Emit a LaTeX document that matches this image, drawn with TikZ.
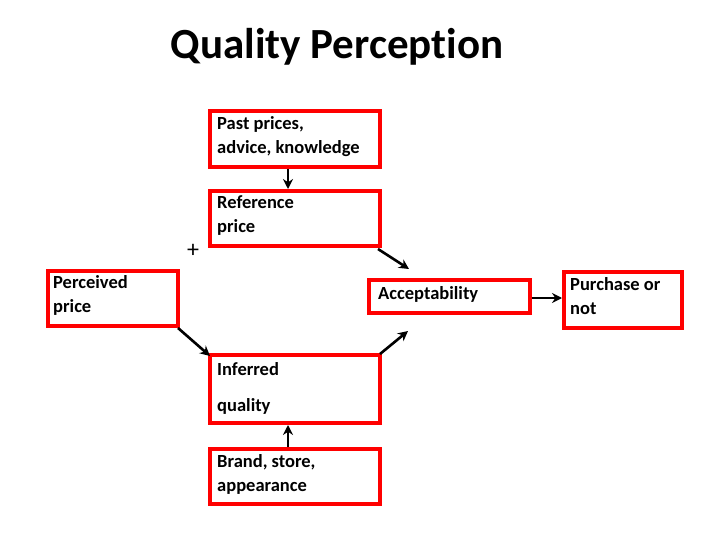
\documentclass[tikz,border=0pt]{standalone}
\usepackage{fontspec}
\setmainfont[Ligatures=NoCommon]{Carlito}
\usetikzlibrary{arrows.meta}
\begin{document}
\begin{tikzpicture}[x=1pt,y=-1pt,
  rbox/.style={draw=red,line width=4pt,fill=white},
  lbl/.style={anchor=north west,align=left,font=\bfseries\fontsize{18.5}{24}\selectfont,inner sep=0pt},
  arr/.style={-{Stealth[length=10pt,width=10pt]},line width=2.6pt}]
\useasboundingbox (0,0) rectangle (720,540);
\node[font=\bfseries\fontsize{43}{48}\selectfont] (t) at (337,47) {Quality Perception};
\draw[rbox] (210,111) rectangle (380,167);
\node[lbl] (a) at (217,116) {Past prices,\\advice, knowledge};
\draw[rbox] (210,191) rectangle (380,246);
\node[lbl] (b) at (217,195) {Reference\\price};
\draw[rbox] (48,271) rectangle (178,326);
\node[lbl] (c) at (53,275) {Perceived\\price};
\draw[rbox] (369,280) rectangle (530,313);
\node[lbl] (d) at (378,286) {Acceptability};
\draw[rbox] (564,272) rectangle (682,328);
\node[lbl] (e) at (570,277) {Purchase or\\not};
\draw[rbox] (210,355) rectangle (380,423);
\node[lbl,font=\bfseries\fontsize{18.5}{36}\selectfont] (f) at (217,362) {Inferred\\quality};
\draw[rbox] (210,449) rectangle (380,504);
\node[lbl] (g) at (217,454) {Brand, store,\\appearance};
\node[font=\fontsize{24}{24}\selectfont] (p) at (193,251) {+};
\coordinate (a1) at (288,169); \coordinate (a2) at (288,189);
\coordinate (b1) at (378,249); \coordinate (b2) at (409,269);
\coordinate (c1) at (178,328); \coordinate (c2) at (210,356);
\coordinate (f1) at (380,354); \coordinate (f2) at (408,331);
\coordinate (d1) at (532,298); \coordinate (d2) at (562,298);
\coordinate (g1) at (288,447); \coordinate (g2) at (288,425);
\draw[arr] (a1) -- (a2);
\draw[arr] (b1) -- (b2);
\draw[arr] (c1) -- (c2);
\draw[arr] (f1) -- (f2);
\draw[arr] (d1) -- (d2);
\draw[arr] (g1) -- (g2);
\end{tikzpicture}
\end{document}
